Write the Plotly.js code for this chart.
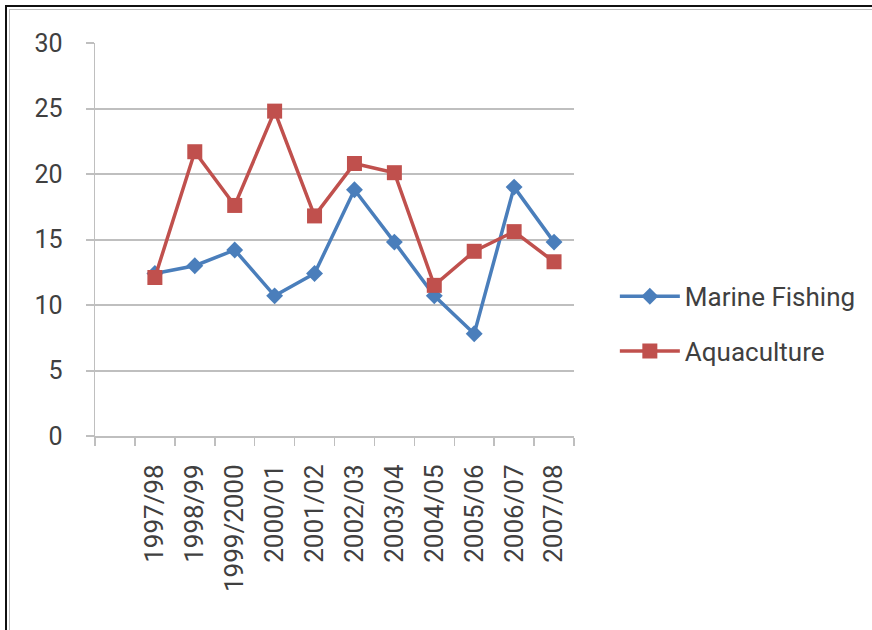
<!DOCTYPE html>
<html>
<head>
<meta charset="utf-8">
<script src="https://cdn.plot.ly/plotly-3.0.1.min.js"></script>
<style>
  html, body { margin: 0; padding: 0; background: #ffffff; }
  #wrap { position: relative; width: 872px; height: 630px; overflow: hidden; }
  #frame1 { position: absolute; left: 5px; top: 5px; width: 900px; height: 700px;
            border-top: 2px solid #111; border-left: 2px solid #111; }
  #frame2 { position: absolute; left: 9px; top: 9px; width: 900px; height: 700px;
            border-top: 1px solid #bdbdbd; border-left: 1px solid #bdbdbd; }
  #chart { position: absolute; left: 0; top: 0; width: 872px; height: 630px; }
</style>
</head>
<body>
<div id="wrap">
  <div id="chart"></div>
  <div id="frame1"></div>
  <div id="frame2"></div>
</div>
<script>
const seasons = ['1997/98','1998/99','1999/2000','2000/01','2001/02','2002/03','2003/04','2004/05','2005/06','2006/07','2007/08'];
const marineFishing = [12.4, 13.0, 14.2, 10.7, 12.4, 18.8, 14.8, 10.7, 7.8, 19.0, 14.8];
const aquaculture   = [12.1, 21.7, 17.6, 24.8, 16.8, 20.8, 20.1, 11.5, 14.1, 15.6, 13.3];
const blankCategory = ' ';
const yTicks = [0, 5, 10, 15, 20, 25, 30];

const textColor = '#404040';
const gridColor = '#bfbfbf';
const fontFamily = 'Roboto, "Open Sans", sans-serif';

const traces = [
  {
    x: seasons, y: marineFishing, name: 'Marine Fishing', type: 'scatter', mode: 'lines+markers',
    legendgroup: 'a',
    line: { color: '#4a7ebb', width: 3.5 },
    marker: { symbol: 'diamond', size: 13, color: '#4a7ebb' }
  },
  {
    x: seasons, y: aquaculture, name: 'Aquaculture', type: 'scatter', mode: 'lines+markers',
    legendgroup: 'b',
    line: { color: '#c0504d', width: 3.5 },
    marker: { symbol: 'square', size: 15, color: '#c0504d' }
  }
];

const layout = {
  width: 872, height: 630,
  margin: { l: 95, r: 297, t: 43, b: 194, pad: 0 },
  paper_bgcolor: '#ffffff', plot_bgcolor: '#ffffff',
  font: { family: fontFamily, color: textColor, size: 25 },
  showlegend: true,
  legend: {
    x: 1.083, xanchor: 'left', y: 0.415, yanchor: 'top',
    font: { family: fontFamily, size: 26, color: textColor },
    traceorder: 'grouped', tracegroupgap: 18, itemwidth: 60,
    bgcolor: 'rgba(0,0,0,0)'
  },
  xaxis: {
    type: 'category',
    categoryorder: 'array',
    categoryarray: [blankCategory].concat(seasons),
    range: [-0.5, seasons.length + 0.5],
    tickson: 'boundaries',
    ticks: 'outside', ticklen: 8, tickwidth: 1.5, tickcolor: gridColor,
    tickangle: -90,
    tickfont: { family: fontFamily, size: 26, color: textColor },
    ticklabelstandoff: 16,
    showline: true, linecolor: gridColor, linewidth: 2,
    showgrid: false, zeroline: false, fixedrange: true
  },
  yaxis: {
    range: [0, 30],
    tickvals: yTicks,
    ticks: 'outside', ticklen: 8, tickwidth: 2, tickcolor: gridColor,
    tickfont: { family: fontFamily, size: 25, color: textColor },
    ticklabelstandoff: 18,
    showline: true, linecolor: gridColor, linewidth: 1.5,
    showgrid: true, gridcolor: gridColor, gridwidth: 2,
    zeroline: false, fixedrange: true
  }
};

Plotly.newPlot('chart', traces, layout, { displayModeBar: false, staticPlot: true });
</script>
</body>
</html>
